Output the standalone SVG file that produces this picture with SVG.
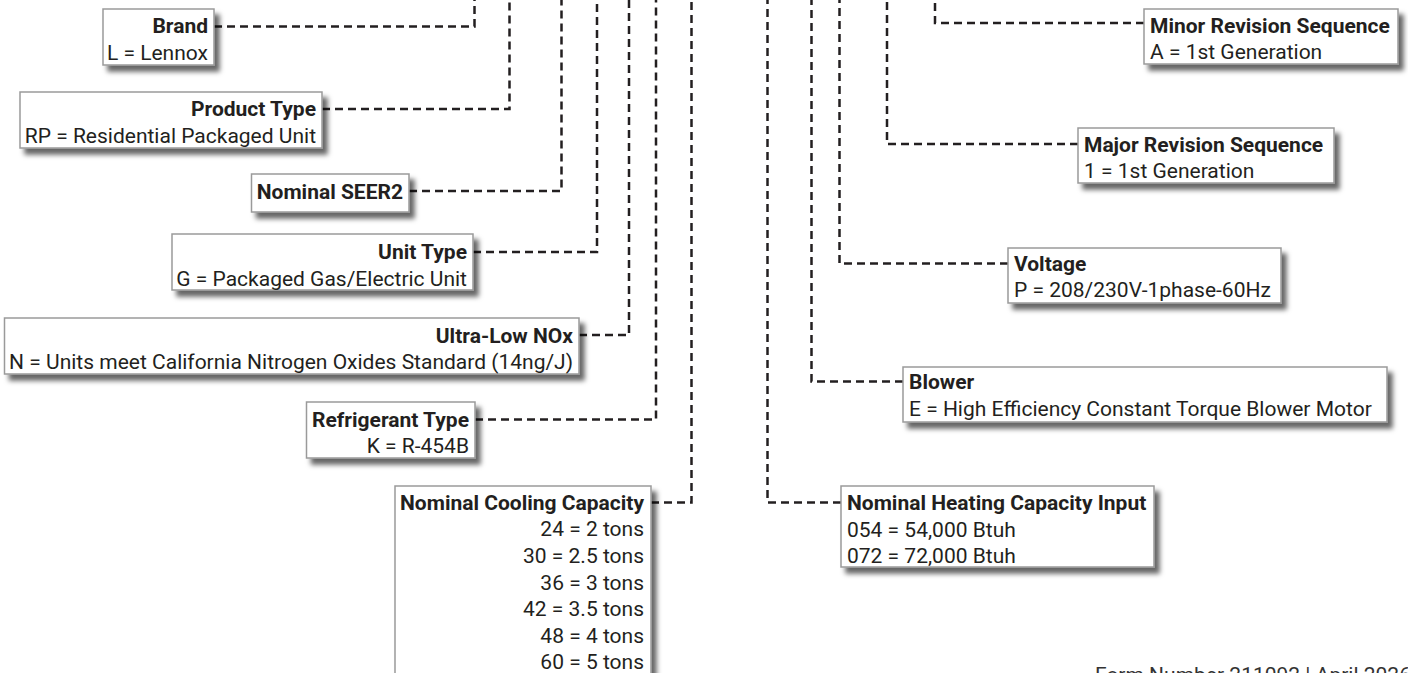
<svg xmlns="http://www.w3.org/2000/svg" width="1408" height="673" viewBox="0 0 1408 673">
<defs>
<filter id="sh" x="-10%" y="-20%" width="130%" height="160%">
<feDropShadow dx="5" dy="6" stdDeviation="2.5" flood-color="#000" flood-opacity="0.6"/>
</filter>
<style>
.box{fill:#fff;stroke:#9a9a9a;stroke-width:1.5;filter:url(#sh)}
.t{font-family:Roboto,"Liberation Sans",sans-serif;font-size:21px;font-weight:700;fill:#231f20}
.v{font-family:Roboto,"Liberation Sans",sans-serif;font-size:21px;font-weight:400;fill:#231f20}
.r{text-anchor:end}
.c{fill:none;stroke:#231f20;stroke-width:2.5;stroke-dasharray:8 5}
.foot{font-family:Roboto,"Liberation Sans",sans-serif;font-size:21px;fill:#333}
</style>
</defs>
<rect width="1408" height="673" fill="#fff"/>
<g id="connectors">
<path class="c" d="M214 26.5H474.5V0"/>
<path class="c" d="M322 109H509.5V0"/>
<path class="c" d="M409 191H561.5V0"/>
<path class="c" d="M473 252H597V0"/>
<path class="c" d="M579 335H629V0"/>
<path class="c" d="M475 419.5H656V0"/>
<path class="c" d="M651 502.5H691.5V0"/>
<path class="c" d="M841 502.5H767.5V0"/>
<path class="c" d="M903 381.5H811.5V0"/>
<path class="c" d="M1008 263.5H839.5V0"/>
<path class="c" d="M1078 144H887V0"/>
<path class="c" d="M1144 23H935V0"/>
</g>
<g id="brand">
<rect class="box" x="103" y="9" width="111" height="56"/>
<text class="t r" x="208" y="33">Brand</text>
<text class="v r" x="208" y="59.5">L = Lennox</text>
</g>
<g id="product-type">
<rect class="box" x="20" y="92" width="302" height="56"/>
<text class="t r" x="316" y="116">Product Type</text>
<text class="v r" x="316" y="142.5">RP = Residential Packaged Unit</text>
</g>
<g id="nominal-seer2">
<rect class="box" x="251.5" y="174" width="157.5" height="38"/>
<text class="t r" x="403" y="198.5">Nominal SEER2</text>
</g>
<g id="unit-type">
<rect class="box" x="172" y="234" width="301" height="56"/>
<text class="t r" x="467" y="259">Unit Type</text>
<text class="v r" x="467" y="285.5">G = Packaged Gas/Electric Unit</text>
</g>
<g id="ultra-low-nox">
<rect class="box" x="4.5" y="318" width="574.5" height="56"/>
<text class="t r" x="573" y="342.5">Ultra-Low NOx</text>
<text class="v r" x="573" y="369">N = Units meet California Nitrogen Oxides Standard (14ng/J)</text>
</g>
<g id="refrigerant-type">
<rect class="box" x="306.5" y="402" width="168.5" height="56"/>
<text class="t r" x="469" y="426.5">Refrigerant Type</text>
<text class="v r" x="469" y="453">K = R-454B</text>
</g>
<g id="nominal-cooling-capacity">
<rect class="box" x="395" y="486" width="256" height="210"/>
<text class="t r" x="644" y="509.5">Nominal Cooling Capacity</text>
<text class="v r" x="644" y="536">24 = 2 tons</text>
<text class="v r" x="644" y="562.5">30 = 2.5 tons</text>
<text class="v r" x="644" y="589.5">36 = 3 tons</text>
<text class="v r" x="644" y="616">42 = 3.5 tons</text>
<text class="v r" x="644" y="642.5">48 = 4 tons</text>
<text class="v r" x="644" y="669">60 = 5 tons</text>
</g>
<g id="nominal-heating-capacity-input">
<rect class="box" x="841" y="486" width="313" height="81"/>
<text class="t" x="847" y="509.5">Nominal Heating Capacity Input</text>
<text class="v" x="847" y="536.5">054 = 54,000 Btuh</text>
<text class="v" x="847" y="563">072 = 72,000 Btuh</text>
</g>
<g id="blower">
<rect class="box" x="903" y="367" width="484" height="55"/>
<text class="t" x="909" y="389">Blower</text>
<text class="v" x="909" y="415.5">E = High Efficiency Constant Torque Blower Motor</text>
</g>
<g id="voltage">
<rect class="box" x="1008" y="248" width="273" height="55"/>
<text class="t" x="1014" y="270.5">Voltage</text>
<text class="v" x="1014" y="297">P = 208/230V-1phase-60Hz</text>
</g>
<g id="major-revision-sequence">
<rect class="box" x="1078" y="128" width="256" height="55"/>
<text class="t" x="1084" y="151.5">Major Revision Sequence</text>
<text class="v" x="1084" y="177.5">1 = 1st Generation</text>
</g>
<g id="minor-revision-sequence">
<rect class="box" x="1144" y="9" width="254" height="55"/>
<text class="t" x="1150" y="32.5">Minor Revision Sequence</text>
<text class="v" x="1150" y="58.5">A = 1st Generation</text>
</g>
<text class="foot" x="1095" y="682">Form Number 211092 | April 2026</text>
</svg>
